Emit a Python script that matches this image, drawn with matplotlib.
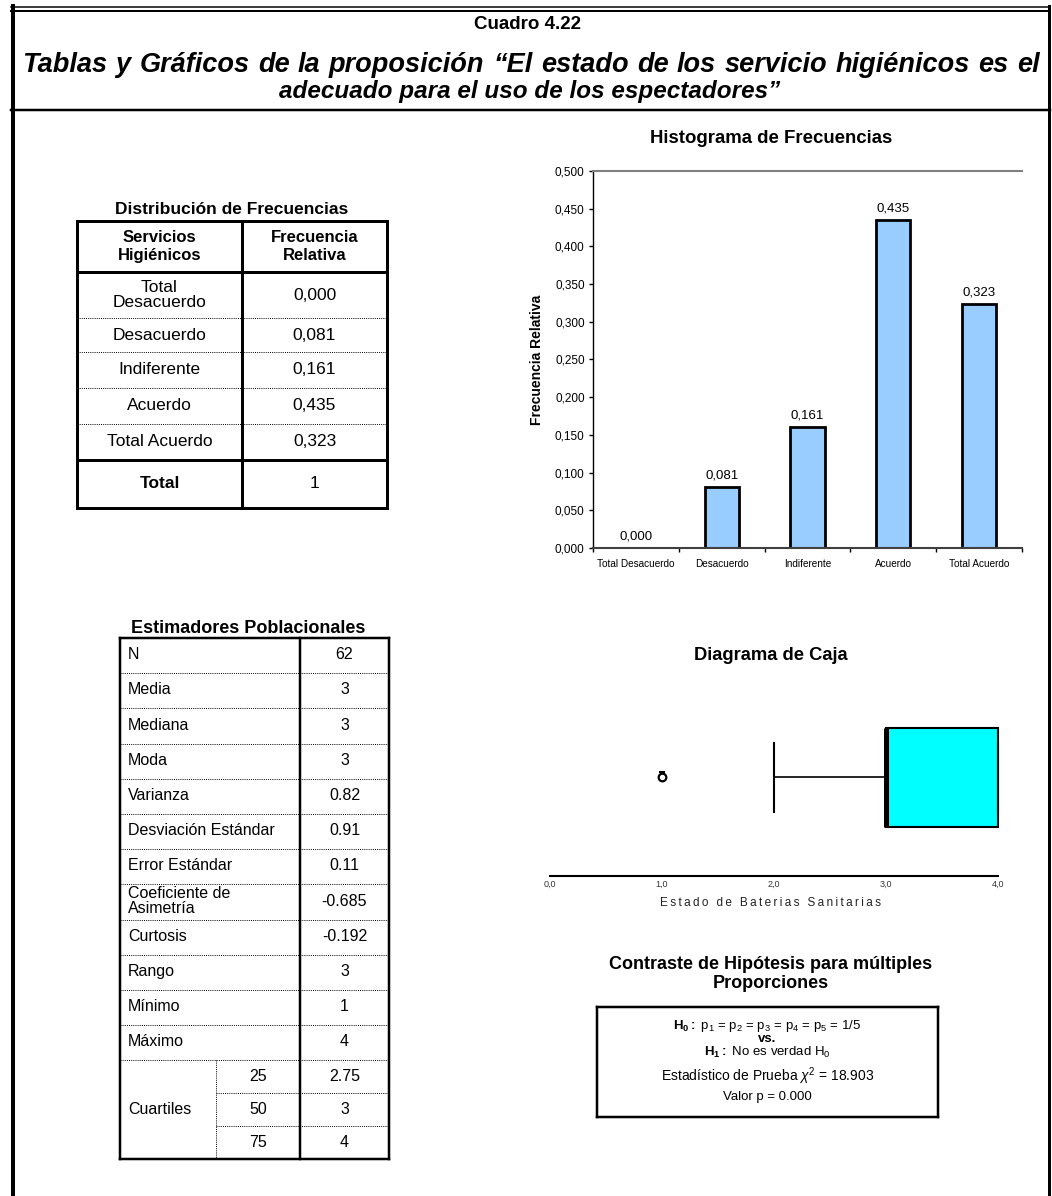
import numpy as np
import matplotlib
matplotlib.use("Agg")
from matplotlib import pyplot as plt

plt.rcParams['font.family'] = ['Liberation Sans', 'DejaVu Sans']
plt.rcParams['mathtext.fontset'] = 'custom'
plt.rcParams['mathtext.rm'] = 'Liberation Sans'
plt.rcParams['mathtext.it'] = 'Liberation Sans:italic'
plt.rcParams['mathtext.bf'] = 'Liberation Sans:bold'

# datos de la tabla y del histograma
categorias = ["Total Desacuerdo", "Desacuerdo", "Indiferente", "Acuerdo", "Total Acuerdo"]
categorias_tabla = ["Total\nDesacuerdo", "Desacuerdo", "Indiferente", "Acuerdo", "Total Acuerdo"]
frec_relativa = [0.000, 0.081, 0.161, 0.435, 0.323]
frec_total = "1"
y_ticks = [0.0, 0.05, 0.10, 0.15, 0.20, 0.25, 0.30, 0.35, 0.40, 0.45, 0.50]

# estimadores poblacionales
est_nombres = ["N", "Media", "Mediana", "Moda", "Varianza", "Desviación Estándar",
               "Error Estándar", "Coeficiente de\nAsimetría", "Curtosis", "Rango",
               "Mínimo", "Máximo"]
est_valores = ["62", "3", "3", "3", "0.82", "0.91", "0.11", "-0.685", "-0.192",
               "3", "1", "4"]
cuartil_pct = ["25", "50", "75"]
cuartil_val = ["2.75", "3", "4"]

# diagrama de caja (bisagras de Tukey)
caja_whislo = 2
caja_q1 = 3
caja_med = 3
caja_q3 = 4
caja_whishi = 4
caja_atipicos = [1]
caja_ticks = [0, 1, 2, 3, 4]

# contraste
chi2 = 18.903
valor_p = 0.000

titulo_1 = "Tablas y Gráficos de la proposición “El estado de los servicio higiénicos es el"
titulo_2 = "adecuado para el uso de los espectadores”"

W, H = 1052, 1196
fig = plt.figure(figsize=(W / 100, H / 100), dpi=100)
bg = fig.add_axes([0, 0, 1, 1])
bg.set_xlim(0, W)
bg.set_ylim(H, 0)
bg.axis('off')


def linea(x0, y0, x1, y1, px=1.0, ls='-', color='black'):
    bg.plot([x0, x1], [y0, y1], color=color, lw=px * 0.72, ls=ls,
            solid_capstyle='projecting')


def punteada(x0, y0, x1, y1):
    bg.plot([x0, x1], [y0, y1], color='black', lw=0.7, ls=(0, (1, 1.2)))


def rect(x0, y0, x1, y1, px):
    linea(x0, y0, x1, y0, px)
    linea(x0, y1, x1, y1, px)
    linea(x0, y0, x0, y1, px)
    linea(x1, y0, x1, y1, px)


# marco general
linea(11, 7, 1050, 7, 1.5)
linea(11, 10.5, 1050, 10.5, 2)
linea(13, 6, 13, H, 4)
linea(1048.5, 6, 1048.5, H, 3)
linea(11, 110, 1050, 110, 2.5)

bg.text(527, 29, "Cuadro 4.22", ha='center', va='baseline', fontsize=13.5,
        fontweight='bold')

# primera linea justificada entre los bordes
tprops = dict(va='baseline', fontweight='bold', fontstyle='italic')
palabras = titulo_1.split(' ')
objs = [bg.text(0, 72, p, ha='left', fontsize=19.5, **tprops) for p in palabras]
fig.canvas.draw()
rend = fig.canvas.get_renderer()
anchos = [o.get_window_extent(rend).width for o in objs]
x_ini, x_fin = 22, 1040
hueco = (x_fin - x_ini - sum(anchos)) / (len(palabras) - 1)
xp = x_ini
for o, a in zip(objs, anchos):
    o.set_x(xp)
    xp += a + hueco
bg.text(530, 98, titulo_2, ha='center', fontsize=17.5, **tprops)

# tabla distribucion de frecuencias
tl, tm, tr = 77, 242, 387
t_top, t_head = 221, 272
t_filas = [272, 318, 352, 388, 424, 460]
t_bot = 508
bg.text((tl + tr) / 2, 214, "Distribución de Frecuencias", ha='center',
        va='baseline', fontsize=12.5, fontweight='bold')
rect(tl, t_top, tr, t_bot, 3)
linea(tm, t_top, tm, t_bot, 3)
linea(tl, t_head, tr, t_head, 3)
linea(tl, t_filas[-1], tr, t_filas[-1], 3)
for y in t_filas[1:-1]:
    punteada(tl, y, tr, y)
c1, c2 = (tl + tm) / 2, (tm + tr) / 2
bg.text(c1, (t_top + t_head) / 2, "Servicios\nHigiénicos", ha='center', va='center',
        fontsize=12, fontweight='bold', linespacing=1.2)
bg.text(c2, (t_top + t_head) / 2, "Frecuencia\nRelativa", ha='center', va='center',
        fontsize=12, fontweight='bold', linespacing=1.2)
for i, (cat, v) in enumerate(zip(categorias_tabla, frec_relativa)):
    yc = (t_filas[i] + t_filas[i + 1]) / 2
    bg.text(c1, yc, cat, ha='center', va='center', fontsize=12.5, linespacing=1.05)
    bg.text(c2, yc, f"{v:.3f}".replace('.', ','), ha='center', va='center', fontsize=12.5)
yc = (t_filas[-1] + t_bot) / 2
bg.text(c1, yc, "Total", ha='center', va='center', fontsize=12.5, fontweight='bold')
bg.text(c2, yc, frec_total, ha='center', va='center', fontsize=12.5)

# tabla estimadores
el, eq, em, er = 120, 216, 300, 389
e_top, e_h, e_hq = 638, 35.2, 32.7
bg.text(248, 633, "Estimadores Poblacionales", ha='center', va='baseline',
        fontsize=13, fontweight='bold')
y = e_top
for nom, val in zip(est_nombres, est_valores):
    bg.text(el + 8, y + e_h / 2 - 1, nom, ha='left', va='center', fontsize=11.5,
            linespacing=1.0)
    bg.text((em + er) / 2, y + e_h / 2 - 1, val, ha='center', va='center', fontsize=11.5)
    y += e_h
    punteada(el, y, er, y)
yq = y
for k, (p, v) in enumerate(zip(cuartil_pct, cuartil_val)):
    bg.text((eq + em) / 2, yq + e_hq * (k + 0.5), p, ha='center', va='center', fontsize=11.5)
    bg.text((em + er) / 2, yq + e_hq * (k + 0.5), v, ha='center', va='center', fontsize=11.5)
    if k > 0:
        punteada(eq, yq + e_hq * k, er, yq + e_hq * k)
e_bot = yq + e_hq * len(cuartil_pct)
bg.text(el + 8, (yq + e_bot) / 2, "Cuartiles", ha='left', va='center', fontsize=11.5)
punteada(eq, yq, eq, e_bot)
rect(el, e_top, er, e_bot, 2.5)
linea(em, e_top, em, e_bot, 2.5)

# histograma
ax = fig.add_axes([593 / W, 1 - 548 / H, 429 / W, 377 / H])
x = np.arange(len(categorias))
ax.bar(x, frec_relativa, width=0.4, color='#99CCFF', edgecolor='black', linewidth=2.0)
for xi, v in zip(x, frec_relativa):
    ax.annotate(f"{v:.3f}".replace('.', ','), (xi, v), xytext=(0, 4),
                textcoords='offset points', ha='center', va='bottom', fontsize=9.5)
ax.set_xlim(-0.5, len(categorias) - 0.5)
ax.set_ylim(0, 0.5)
ax.set_yticks(y_ticks)
ax.set_yticklabels([f"{t:.3f}".replace('.', ',') for t in y_ticks], fontsize=8.5)
ax.set_xticks(x)
ax.set_xticklabels(categorias, fontsize=7.2)
ax.set_xticks(np.arange(-0.5, len(categorias)), minor=True)
ax.tick_params(axis='x', which='major', length=0, pad=8)
ax.tick_params(axis='x', which='minor', length=3, width=1, direction='out')
ax.tick_params(axis='y', length=3, width=1, direction='out', pad=3)
ax.spines['right'].set_visible(False)
ax.spines['top'].set_color('#808080')
ax.spines['top'].set_linewidth(1.5)
ax.spines['bottom'].set_color('#404040')
ax.spines['bottom'].set_linewidth(1.5)
ax.spines['left'].set_linewidth(1.0)
ax.set_ylabel("Frecuencia Relativa", fontsize=10, fontweight='bold')
ax.yaxis.set_label_coords(-0.115, 0.5)
bg.text(771, 143, "Histograma de Frecuencias", ha='center', va='baseline',
        fontsize=13.4, fontweight='bold')

# diagrama de caja
ax2 = fig.add_axes([550 / W, 1 - 876 / H, 448 / W, 186 / H])
stats = [dict(whislo=caja_whislo, q1=caja_q1, med=caja_med, q3=caja_q3,
              whishi=caja_whishi, fliers=caja_atipicos)]
ax2.bxp(stats, positions=[0.53], widths=0.532, capwidths=[0.373],
        orientation='horizontal', patch_artist=True,
        boxprops=dict(facecolor='#00FFFF', edgecolor='black', linewidth=1.5),
        medianprops=dict(color='black', linewidth=3.6),
        whiskerprops=dict(color='black', linewidth=1.2),
        capprops=dict(color='black', linewidth=1.5),
        flierprops=dict(marker='o', markerfacecolor='none', markeredgecolor='black',
                        markersize=5.5, markeredgewidth=1.6))
# marca del numero de caso sobre el atipico
ax2.plot(caja_atipicos, [0.53 + 0.03], marker='_', color='black', markersize=5,
         markeredgewidth=1.5, clip_on=False)
for a in ax2.get_children():
    if hasattr(a, 'set_clip_on'):
        a.set_clip_on(False)
ax2.set_xlim(0, 4)
ax2.set_ylim(0, 1)
ax2.set_yticks([])
ax2.set_xticks(caja_ticks)
ax2.set_xticklabels([f"{t:.1f}".replace('.', ',') for t in caja_ticks], fontsize=6.5,
                    color='#333333')
ax2.tick_params(axis='x', length=0, pad=3)
for s in ['top', 'right', 'left']:
    ax2.spines[s].set_visible(False)
ax2.spines['bottom'].set_linewidth(1.5)
bg.text(771, 660, "Diagrama de Caja", ha='center', va='baseline', fontsize=13.2,
        fontweight='bold')
bg.text(770, 903, "\u2009".join("Estado de Baterias Sanitarias"), ha='center',
        va='center', fontsize=8.5, color='#222222')

# contraste de hipotesis
bg.text(771, 974, "Contraste de Hipótesis para múltiples\nProporciones", ha='center',
        va='center', fontsize=13, fontweight='bold', linespacing=1.15)
rect(597, 1007, 938, 1117, 2.5)
cx = (597 + 938) / 2
bg.text(cx, 1026, r"$\mathbf{H_0:}$ p$_1$ = p$_2$ = p$_3$ = p$_4$ = p$_5$ = 1/5",
        ha='center', va='center', fontsize=9.5)
bg.text(cx, 1039, "vs.", ha='center', va='center', fontsize=9.5, fontweight='bold')
bg.text(cx, 1052, r"$\mathbf{H_1:}$ No es verdad H$_0$", ha='center', va='center',
        fontsize=9.5)
bg.text(cx, 1076, f"Estadístico de Prueba $\\chi^2$ = {chi2:.3f}", ha='center',
        va='center', fontsize=10)
bg.text(cx, 1097, f"Valor p = {valor_p:.3f}", ha='center', va='center', fontsize=9.5)

fig.savefig("out.png", dpi=100)
